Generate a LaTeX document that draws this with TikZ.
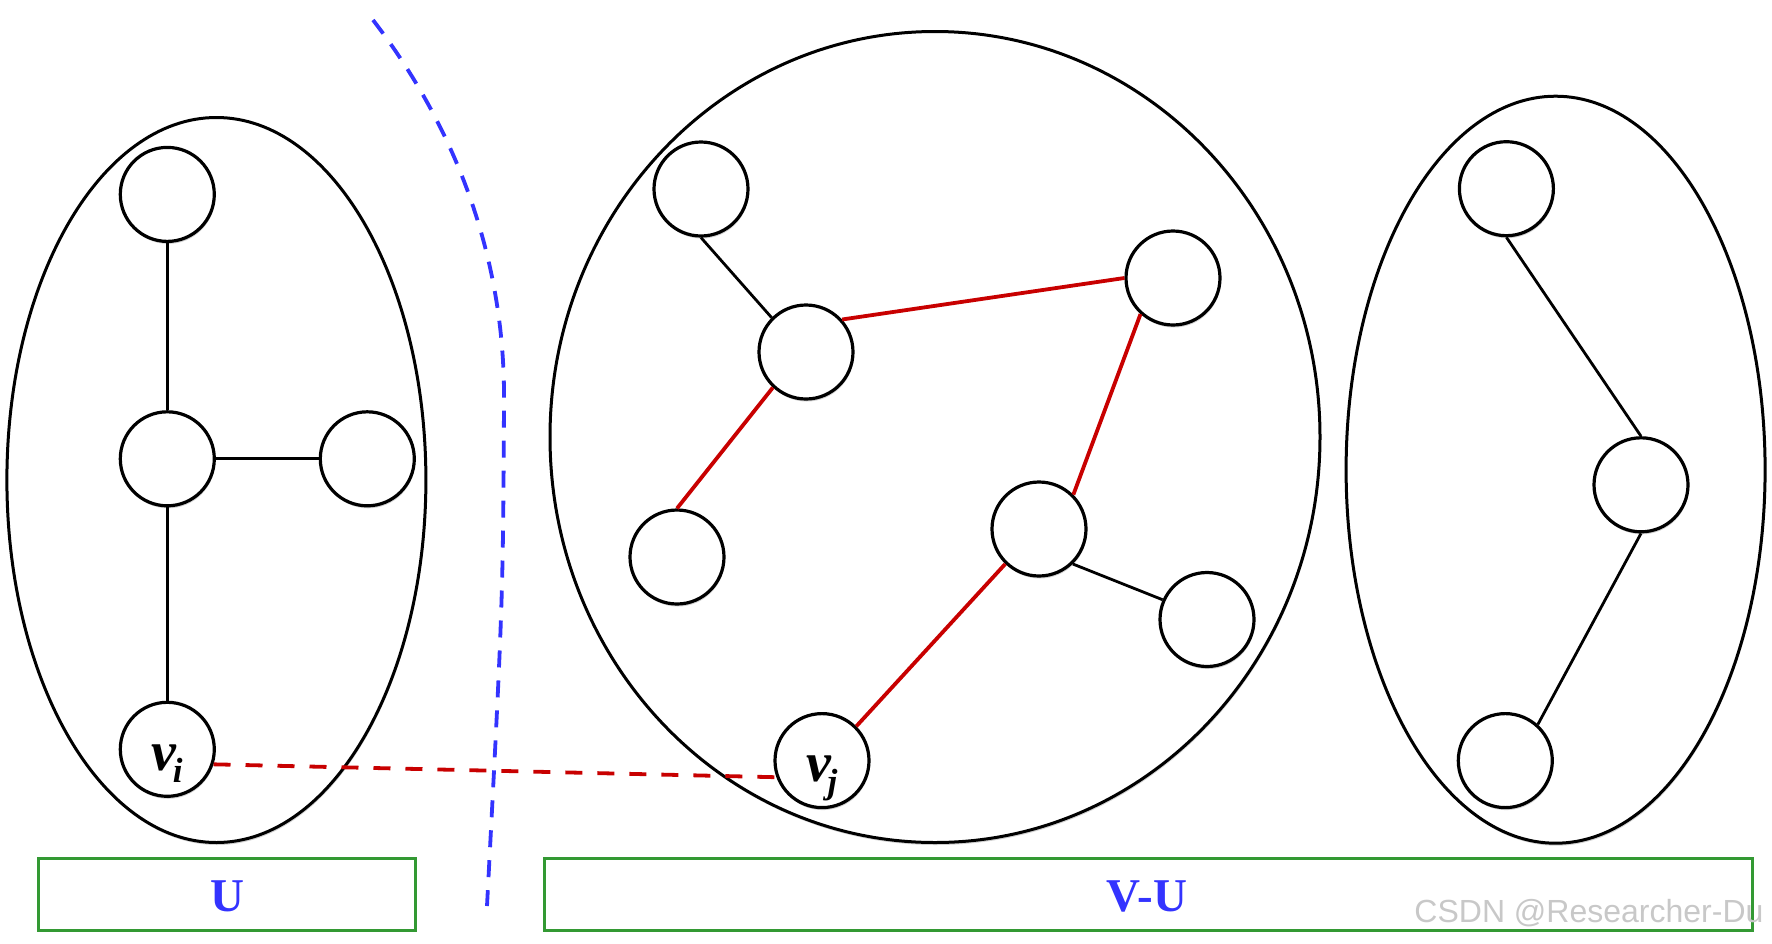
\documentclass[tikz,border=0pt]{standalone}
\usepackage{fontspec}
\setmainfont{Liberation Serif}
\newfontfamily\wmfont{Liberation Sans}
\usetikzlibrary{shapes.geometric,shadows}
\definecolor{edgered}{RGB}{200,0,0}
\definecolor{cutblue}{RGB}{51,51,255}
\definecolor{boxgreen}{RGB}{51,153,51}
\definecolor{wmgray}{RGB}{200,200,200}
\newcommand\mysublab[1]{v\kern-0.06em\raisebox{-12pt}{\fontsize{35}{36}\selectfont #1}}
\tikzset{
  softshadow/.style={drop shadow={shadow xshift=0.8pt, shadow yshift=-2.5pt, opacity=0.18, fill=black}},
  vtx/.style={circle, draw=black, line width=3.2pt, fill=white, minimum size=94pt, inner sep=0pt, softshadow},
  group/.style={ellipse, draw=black, line width=3pt, fill=white, inner sep=0pt, softshadow},
  blk/.style={draw=black, line width=2.8pt},
  red/.style={draw=edgered, line width=3.8pt},
  reddash/.style={draw=edgered, line width=3.8pt, dash pattern=on 17pt off 15pt},
  cut/.style={draw=cutblue, line width=3.8pt, dash pattern=on 17pt off 13pt},
  labelbox/.style={draw=boxgreen, line width=3pt, inner sep=0pt},
  boxtext/.style={text=cutblue, font=\fontsize{47}{52}\selectfont\bfseries},
  vlab/.style={anchor=base west, inner sep=0pt, font=\fontsize{56}{60}\selectfont\bfseries\itshape},
}
\begin{document}
\begin{tikzpicture}[x=1pt,y=-1pt]
\useasboundingbox (0,0) rectangle (1772,943);
% groups
\node[group, minimum width=419pt, minimum height=725pt] (gL) at (216.4,480) {};
\node[group, minimum width=770pt, minimum height=811pt] (gM) at (935,437) {};
\node[group, minimum width=419pt, minimum height=747pt] (gR) at (1555.6,469.7) {};
% cut line
\coordinate (c0) at (373,20);
\coordinate (c1) at (504,400);
\coordinate (c2) at (487,906);
\draw[cut] (c0) .. controls (450,120) and (505,250) .. (c1) .. controls (503,600) .. (c2);
% left vertices
\node[vtx] (A) at (167.3,194.4) {};
\node[vtx] (B) at (167.3,458.8) {};
\node[vtx] (C) at (367.3,458.8) {};
\node[vtx] (vi) at (167.3,749.3) {};
% middle vertices
\node[vtx] (m1) at (701,189) {};
\node[vtx] (m2) at (806,352) {};
\node[vtx] (m3) at (1173,278) {};
\node[vtx] (m4) at (677,557) {};
\node[vtx] (m5) at (1039,529) {};
\node[vtx] (m6) at (1207,619.5) {};
\node[vtx] (vj) at (822,760.6) {};
% right vertices
\node[vtx] (r1) at (1506.4,188.7) {};
\node[vtx] (r2) at (1641,484.8) {};
\node[vtx] (r3) at (1505.3,760.6) {};
% vertex labels
\node[vlab] (vilab) at ([xshift=-16pt,yshift=-21pt]vi.center) {\mysublab{i}};
\node[vlab] (vjlab) at ([xshift=-16pt,yshift=-21pt]vj.center) {\mysublab{j}};
% edges
\draw[blk] (A) -- (B);
\draw[blk] (B) -- (C);
\draw[blk] (B) -- (vi);
\draw[blk] (m1.270) -- (m2.135);
\draw[blk] (m5.314) -- (m6.156);
\draw[red] (m2.42) -- (m3.180);
\draw[red] (m2.227) -- (m4.90);
\draw[red] (m3.228) -- (m5.45);
\draw[red] (m5.226) -- (vj.45);
\draw[blk] (r1.270) -- (r2.90);
\draw[blk] (r2.270) -- (r3.48);
\draw[reddash] (vi.-18) -- (vj.200);
% label boxes
\node[labelbox, minimum width=377pt, minimum height=72pt] (bU) at (227,894) {};
\node[boxtext] (tU) at (227,896) {U};
\node[labelbox, minimum width=1208pt, minimum height=72pt] (bVU) at (1148,894) {};
\node[boxtext] (tVU) at (1147,896) {V-U};
% watermark
\node[anchor=east, text=wmgray, font=\wmfont\fontsize{32}{35}\selectfont] (wm) at (1767,913) {CSDN @Researcher-Du};
\end{tikzpicture}
\end{document}
